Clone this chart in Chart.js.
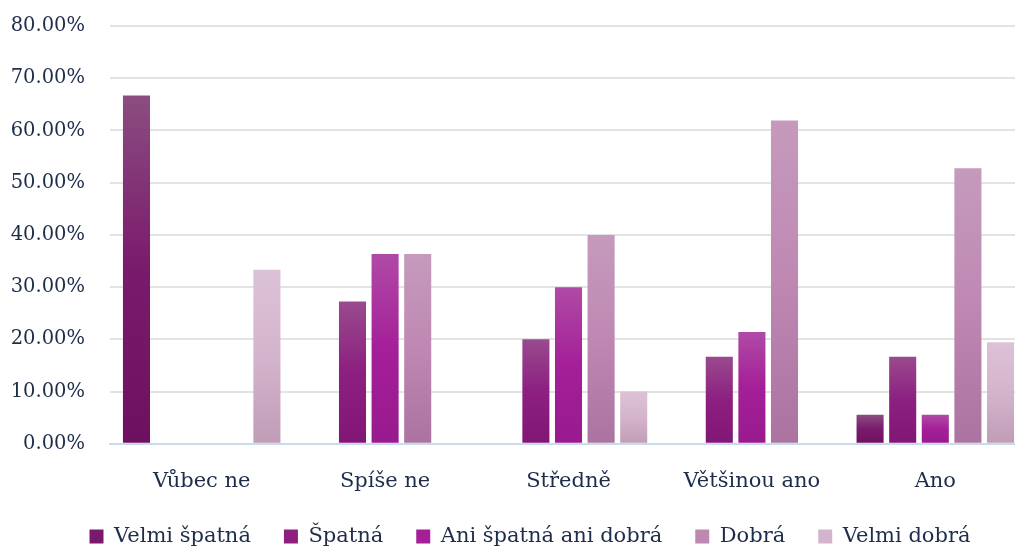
<!DOCTYPE html>
<html>
<head>
<meta charset="utf-8">
<script src="https://cdn.jsdelivr.net/npm/chart.js@4/dist/chart.umd.min.js"></script>
<style>
  html, body { margin: 0; padding: 0; background: #fff; overflow: hidden; }
  #wrap { width: 1060px; height: 548px; }
</style>
</head>
<body>
<div id="wrap"><canvas id="chart" width="1060" height="548"></canvas></div>
<script>
// answer categories and rating series (percent of each row)
var categories = ["Vůbec ne", "Spíše ne", "Středně", "Většinou ano", "Ano"];
var seriesNames = ["Velmi špatná", "Špatná", "Ani špatná ani dobrá", "Dobrá", "Velmi dobrá"];
var velmiSpatna = [66.67, 0, 0, 0, 5.56];
var spatna = [0, 27.27, 20, 16.67, 16.67];
var aniAni = [0, 36.36, 30, 21.43, 5.56];
var dobra = [0, 36.36, 40, 61.9, 52.78];
var velmiDobra = [33.33, 0, 10, 0, 19.44];
var yTicks = [0, 10, 20, 30, 40, 50, 60, 70, 80];

// gradient stops per series: top, middle, bottom
var gradStops = [
  ["#8b4d80", "#7a1a6c", "#6e1060"],
  ["#9a4a8e", "#8c1f80", "#821675"],
  ["#b04aa6", "#a41f98", "#981a8e"],
  ["#c59abd", "#be88b3", "#ab73a0"],
  ["#dcc2d6", "#d4b4cc", "#c09cb6"]
];
var textColor = "#1d2d4a";
var fontFamily = "'DejaVu Serif', serif";

function barFill(i) {
  return function(ctx) {
    var chart = ctx.chart;
    var stops = gradStops[i];
    if (!chart.chartArea || ctx.type !== "data") return stops[1];
    var y = chart.scales.y;
    var top = y.getPixelForValue(ctx.raw);
    var bot = y.getPixelForValue(0);
    if (bot - top < 1) return stops[1];
    var g = chart.ctx.createLinearGradient(0, top, 0, bot);
    g.addColorStop(0, stops[0]);
    g.addColorStop(0.5, stops[1]);
    g.addColorStop(1, stops[2]);
    return g;
  };
}

var allSeries = [velmiSpatna, spatna, aniAni, dobra, velmiDobra];
var datasets = [];
for (var i = 0; i < allSeries.length; i++) {
  datasets.push({
    label: seriesNames[i],
    data: allSeries[i],
    backgroundColor: barFill(i),
    borderWidth: 0,
    barPercentage: 0.83,
    categoryPercentage: 0.889
  });
}

// y labels may use the space left of the padding, legend sits a bit higher
var tweakLayout = {
  id: "tweakLayout",
  afterLayout: function(chart) {
    chart.scales.y.left = 0;
    chart.legend.top -= 26;
    chart.legend.bottom -= 26;
  }
};

var chart = new Chart(document.getElementById("chart"), {
  type: "bar",
  data: { labels: categories, datasets: datasets },
  plugins: [tweakLayout],
  options: {
    responsive: false,
    animation: false,
    layout: { padding: { left: 33, right: 33, top: 0, bottom: -35 } },
    plugins: {
      tooltip: { enabled: false },
      legend: {
        position: "bottom",
        labels: {
          color: textColor,
          font: { family: fontFamily, size: 21 },
          boxWidth: 14,
          boxHeight: 14,
          padding: 33,
          generateLabels: function(chart) {
            var items = Chart.defaults.plugins.legend.labels.generateLabels(chart);
            items.forEach(function(it, k) {
              it.fillStyle = gradStops[k][1];
              it.strokeStyle = gradStops[k][1];
              it.lineWidth = 0;
            });
            return items;
          }
        }
      }
    },
    scales: {
      x: {
        grid: { display: false, drawTicks: false },
        border: { display: true, color: "#c6daf0", width: 2 },
        ticks: { color: textColor, font: { family: fontFamily, size: 21 }, padding: 25 }
      },
      y: {
        min: 0,
        max: 80,
        afterFit: function(scale) {
          scale.width = 77;
          scale.paddingTop = 26;
          scale.paddingBottom = 0;
        },
        afterBuildTicks: function(scale) {
          scale.ticks = yTicks.map(function(v) { return { value: v }; });
        },
        grid: { color: "#e3e3e3", lineWidth: 2, drawTicks: false },
        border: { display: false },
        ticks: {
          color: textColor,
          font: { family: fontFamily, size: 19.5 },
          padding: 25,
          callback: function(v) { return v.toFixed(2) + "%"; }
        }
      }
    }
  }
});
</script>
</body>
</html>
